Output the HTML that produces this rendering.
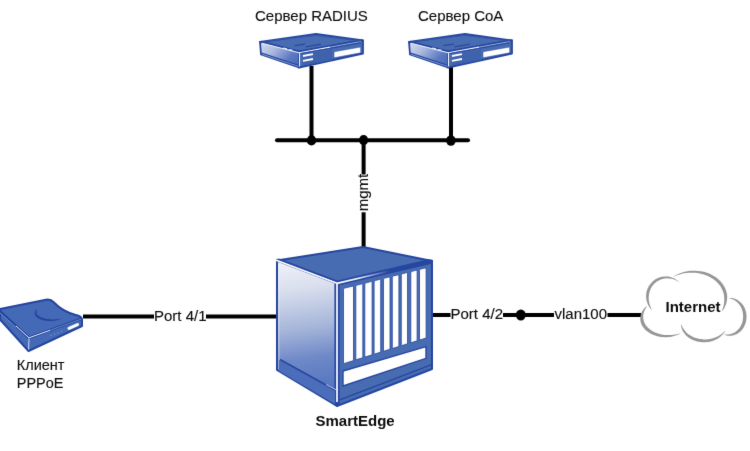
<!DOCTYPE html>
<html><head><meta charset="utf-8">
<style>
html,body{margin:0;padding:0;background:#fff;}
body{width:750px;height:451px;overflow:hidden;}
svg{display:block;}
text{font-family:"Liberation Sans",sans-serif;fill:#0c0c0c;stroke:#0c0c0c;stroke-width:0.12px;}
</style></head><body>
<svg width="750" height="451" viewBox="0 0 750 451">
<defs>
  <filter id="soft" x="0" y="0" width="750" height="451" filterUnits="userSpaceOnUse" color-interpolation-filters="sRGB"><feConvolveMatrix order="3" kernelMatrix="6 67 6 67 708 67 6 67 6" divisor="1000" edgeMode="duplicate"/></filter>
  <linearGradient id="srvL" x1="0" y1="0.2" x2="1" y2="0.8">
    <stop offset="0" stop-color="#cfd6ea"/>
    <stop offset="0.3" stop-color="#adbbdf"/>
    <stop offset="0.75" stop-color="#5b79c1"/>
    <stop offset="1" stop-color="#4a6bb8"/>
  </linearGradient>
  <linearGradient id="swL" gradientUnits="userSpaceOnUse" x1="292" y1="262" x2="312" y2="400">
    <stop offset="0" stop-color="#eff1f7"/>
    <stop offset="0.2" stop-color="#d8deed"/>
    <stop offset="0.49" stop-color="#a4b4d9"/>
    <stop offset="0.7" stop-color="#6f89c8"/>
    <stop offset="1" stop-color="#4e6fbc"/>
  </linearGradient>
</defs>
<g filter="url(#soft)">
<rect x="0" y="0" width="750" height="451" fill="#fff"/>

<!-- ===== lines ===== -->
<g stroke="#000" stroke-width="4" fill="none">
  <line x1="277" y1="140.2" x2="468" y2="140.2" stroke-linecap="round"/>
  <line x1="311.5" y1="66" x2="311.5" y2="140.2"/>
  <line x1="451" y1="66" x2="451" y2="140.2"/>
  <line x1="363.6" y1="140.2" x2="363.6" y2="174.5"/>
  <line x1="363.6" y1="212.3" x2="363.6" y2="250"/>
  <line x1="83" y1="316.5" x2="154" y2="316.5"/>
  <line x1="206" y1="316.5" x2="278" y2="316.5"/>
  <line x1="432" y1="315" x2="450.5" y2="315"/>
  <line x1="503" y1="315" x2="554" y2="315"/>
  <line x1="607.5" y1="315" x2="641" y2="315"/>
</g>
<g fill="#000">
  <ellipse cx="311.5" cy="140.4" rx="4.7" ry="5.1"/>
  <ellipse cx="363.6" cy="140.1" rx="4.6" ry="5.1"/>
  <ellipse cx="450.9" cy="140.5" rx="4.8" ry="5.2"/>
  <ellipse cx="520.8" cy="315" rx="4.9" ry="5.5"/>
</g>

<!-- ===== texts ===== -->
<text transform="translate(255,20.7) scale(1,1.02)" font-size="15">Сервер RADIUS</text>
<text transform="translate(418,20.7) scale(1,1.02)" font-size="15">Сервер CoA</text>
<text transform="translate(154,321) scale(1,1.02)" font-size="15">Port 4/1</text>
<text transform="translate(450.5,319.3) scale(1,1.02)" font-size="15">Port 4/2</text>
<text transform="translate(554.5,319.3) scale(1,1.02)" font-size="15">vlan100</text>
<text transform="translate(16.8,369.7) scale(1,1.02)" font-size="14.5">Клиент</text>
<text transform="translate(16.8,387.7) scale(1,1.02)" font-size="14.5">PPPoE</text>
<text transform="translate(665.5,311.7) scale(1,1.02)" font-size="15" font-weight="bold" style="stroke:none">Internet</text>
<text transform="translate(315.5,426.2) scale(1,1.02)" font-size="15" font-weight="bold" style="stroke:none">SmartEdge</text>
<text transform="translate(367.8,211.3) rotate(-90)" font-size="15">mgmt</text>

<!-- ===== servers ===== -->
<g id="srv">
  <polygon points="260,42 316,34 363,40.5 299,52" fill="#486cb1" stroke="#2646a0" stroke-width="1.8" stroke-linejoin="round"/>
  <polygon points="260,42 299,52 299,67.5 261,54.5" fill="url(#srvL)" stroke="#2646a0" stroke-width="1.8" stroke-linejoin="round"/>
  <polygon points="299,52 363,40.5 363,53.5 299,67.5" fill="#486cb1" stroke="#2646a0" stroke-width="1.8" stroke-linejoin="round"/>
  <polyline points="261,41.6 299,51.3 362,39.9" fill="none" stroke="#2646a0" stroke-width="1.5"/>
  <polyline points="262,43.3 299,52.7 330,47.1" fill="none" stroke="#f0f4fb" stroke-width="1.1"/>
  <line x1="330" y1="47.1" x2="361" y2="41.5" stroke="#9fb2dc" stroke-width="0.9"/>
  <polyline points="300,53.8 361,42.8" fill="none" stroke="#2646a0" stroke-width="1"/>
  <line x1="299.5" y1="53" x2="299.5" y2="66.5" stroke="#eef2fa" stroke-width="1.1"/>
  <line x1="261.5" y1="53.2" x2="298.5" y2="65.3" stroke="#2646a0" stroke-width="1.3"/>
  <line x1="262" y1="54.4" x2="298.5" y2="66.4" stroke="#9fb2dc" stroke-width="0.6"/>
  <polyline points="264,41.5 316,35.5 360,41" fill="none" stroke="#3456a8" stroke-width="0.8"/>
  <line x1="283" y1="48" x2="287" y2="48.9" stroke="#e6ecf8" stroke-width="1.2"/>
  <line x1="288.8" y1="49.5" x2="292.6" y2="50.4" stroke="#e6ecf8" stroke-width="1.2"/>
  <line x1="294.4" y1="45.7" x2="305" y2="44.1" stroke="#2a4a9e" stroke-width="1.2"/>
  <line x1="305.6" y1="46.9" x2="321" y2="44.1" stroke="#2a4a9e" stroke-width="1.2"/>
  <polygon points="303,54.5 332,49 332,60 303,65.5" fill="#3f62ad"/>
  <polygon points="334,51.8 360.7,47 360.7,52.8 334,57.8" fill="#fff" stroke="#2646a0" stroke-width="0.5"/>
  <line x1="303" y1="56" x2="313" y2="54.2" stroke="#fff" stroke-width="1.8"/>
  <line x1="303" y1="60.8" x2="313" y2="59" stroke="#fff" stroke-width="1.8"/>
</g>
<use href="#srv" x="149" y="0"/>

<!-- ===== modem ===== -->
<g>
  <path d="M0,309 L46,299.7 Q50.5,298.8 54,302.5 Q62,311 75,314.8 Q82,316.5 82,319.5 L82,326 L28.5,351 L0,319.5 Z" fill="#4469b6" stroke="#24459e" stroke-width="2" stroke-linejoin="round"/>
  <polyline points="0,311.5 29,337.8 81,319" fill="none" stroke="#24459e" stroke-width="2.6"/>
  <polyline points="16,326 29,337.8 50,330.3" fill="none" stroke="#e6ecf8" stroke-width="1"/>
  <polyline points="0,313 16,327.3" fill="none" stroke="#7f98d0" stroke-width="0.9"/>
  <polyline points="50,330.3 81,319.2" fill="none" stroke="#6f8cc8" stroke-width="0.9"/>
  <line x1="29" y1="338.3" x2="28.6" y2="349.5" stroke="#dfe6f6" stroke-width="0.9"/>
  <path d="M37.1,309.0 L36.4,309.5 L35.8,310.1 L35.4,310.7 L35.0,311.4 L34.8,312.1 L34.7,312.7 L34.7,313.4 L34.8,314.1 L35.0,314.8 L35.4,315.4 L35.8,316.1 L36.4,316.7 L37.0,317.3 L37.8,317.9 L38.6,318.4 L39.6,318.9 L40.6,319.4 L41.7,319.8 L42.8,320.1 L44.0,320.4 L45.3,320.7 L46.5,320.8 L47.9,321.0 L49.2,321.0 L50.5,321.1 L51.8,321.0 L53.1,320.9 L54.4,320.7 L55.7,320.5 L56.9,320.2 L58.1,319.9 L59.2,319.5 L60.2,319.1 L61.2,318.6 L62.0,318.1 L62.0,318.1 L60.9,318.4 L59.8,318.6 L58.7,318.9 L57.6,319.0 L56.4,319.2 L55.3,319.3 L54.1,319.4 L52.9,319.4 L51.7,319.4 L50.5,319.3 L49.3,319.2 L48.2,319.1 L47.0,318.9 L45.9,318.7 L44.9,318.5 L43.9,318.2 L42.9,317.9 L42.0,317.6 L41.1,317.3 L40.3,316.9 L39.6,316.5 L39.0,316.1 L38.4,315.7 L37.8,315.2 L37.4,314.8 L37.0,314.3 L36.7,313.8 L36.5,313.3 L36.3,312.8 L36.3,312.2 L36.3,311.6 L36.4,311.0 L36.6,310.4 L36.8,309.7 L37.1,309.0Z" fill="#24459e"/>
  <line x1="69" y1="328.3" x2="77.5" y2="324.6" stroke="#fff" stroke-width="3" stroke-linecap="round"/>
  <g fill="#7d98d4"><circle cx="51" cy="335.5" r="0.7"/><circle cx="54.5" cy="334.2" r="0.7"/><circle cx="58" cy="332.9" r="0.7"/><circle cx="61.5" cy="331.6" r="0.7"/></g>
</g>

<!-- ===== switch ===== -->
<g>
  <clipPath id="swClip"><polygon points="276,259 363,246 433,260 433,370 337,407 276,371"/></clipPath>
  <linearGradient id="hlF" gradientUnits="userSpaceOnUse" x1="337" y1="0" x2="432" y2="0">
    <stop offset="0" stop-color="#ffffff"/><stop offset="0.22" stop-color="#e8eef8"/><stop offset="0.55" stop-color="#2646a0"/>
  </linearGradient>
  <polygon points="277,260.5 363,247 432,261 337,283.3" fill="#486cb2" stroke="#2646a0" stroke-width="2" stroke-linejoin="round"/>
  <polygon points="277,260.5 337,283.3 337,406 277,370" fill="url(#swL)" stroke="#2646a0" stroke-width="2" stroke-linejoin="round"/>
  <polygon points="337,283.3 432,261 432,369 337,406" fill="#486cb2" stroke="#2646a0" stroke-width="2" stroke-linejoin="round"/>
  <g clip-path="url(#swClip)">
    <line x1="274" y1="258" x2="337.5" y2="282" stroke="#2646a0" stroke-width="2.6"/>
    <line x1="337" y1="283.3" x2="436" y2="260.1" stroke="#2646a0" stroke-width="5.2"/>
    <line x1="278.9" y1="263" x2="278.9" y2="369" stroke="#f4f6fb" stroke-width="0.9" opacity="0.6"/>
    <line x1="337" y1="283.3" x2="337" y2="406" stroke="#2646a0" stroke-width="5.2"/>
    <polyline points="274,259.3 337,283.3" fill="none" stroke="#fff" stroke-width="1.7"/>
    <line x1="337" y1="283.3" x2="432" y2="261" stroke="url(#hlF)" stroke-width="1.7"/>
    <line x1="337" y1="283.3" x2="337" y2="402" stroke="#fff" stroke-width="1.7"/>
  </g>
  <!-- left plinth -->
  <polygon points="279,360 335,390.5 335,404 279,371" fill="#4b6dba"/>
  <line x1="280" y1="359.5" x2="335" y2="390" stroke="#2646a0" stroke-width="1.6"/>
  <!-- front face plinth -->
  <line x1="338.5" y1="400.3" x2="431" y2="364.8" stroke="#2646a0" stroke-width="1.3"/>
  <line x1="326" y1="384.5" x2="336" y2="389.8" stroke="#b8c6ea" stroke-width="1"/>
  <!-- white bar -->
  <polygon points="343,371 426,346.6 426,358.3 343,386" fill="#fff" stroke="#2646a0" stroke-width="1.4"/>
  <!-- slots -->
  <g fill="#fff" stroke="#2646a0" stroke-width="0.8">
<path d="M343.5,363.7 L343.5,289.6 Q343.5,288.4 344.7,288.1 L352.3,286.2 Q353.5,285.9 353.5,287.1 L353.5,360.6 Z"/>
<path d="M355.8,359.8 L355.8,286.6 Q355.8,285.4 357.0,285.1 L361.6,283.9 Q362.8,283.6 362.8,284.8 L362.8,357.7 Z"/>
<path d="M364.8,357.1 L364.8,284.3 Q364.8,283.1 366.0,282.8 L370.9,281.6 Q372.1,281.3 372.1,282.5 L372.1,354.8 Z"/>
<path d="M374.1,354.2 L374.1,282.0 Q374.1,280.8 375.3,280.5 L379.5,279.4 Q380.7,279.1 380.7,280.3 L380.7,352.1 Z"/>
<path d="M383.5,351.3 L383.5,279.6 Q383.5,278.4 384.7,278.1 L388.8,277.1 Q390.0,276.8 390.0,278.0 L390.0,349.2 Z"/>
<path d="M392.3,348.5 L392.3,277.4 Q392.3,276.2 393.5,275.9 L397.7,274.9 Q398.9,274.6 398.9,275.8 L398.9,346.5 Z"/>
<path d="M401.3,345.7 L401.3,275.2 Q401.3,274.0 402.5,273.7 L406.3,272.7 Q407.5,272.4 407.5,273.6 L407.5,343.8 Z"/>
<path d="M410.8,342.8 L410.8,272.8 Q410.8,271.6 412.0,271.3 L415.9,270.3 Q417.1,270.0 417.1,271.2 L417.1,340.8 Z"/>
<path d="M419.5,340.1 L419.5,270.6 Q419.5,269.4 420.7,269.1 L424.9,268.1 Q426.1,267.8 426.1,269.0 L426.1,338.0 Z"/>
  </g>
</g>

<!-- ===== cloud ===== -->
<g fill="#969696">
  <path d="M651.9,310.1 L650.8,309.0 L649.8,307.7 L649.0,306.4 L648.2,305.1 L647.5,303.6 L647.0,302.1 L646.6,300.6 L646.3,299.0 L646.1,297.4 L646.1,295.8 L646.2,294.2 L646.4,292.6 L646.8,291.0 L647.3,289.5 L647.9,288.0 L648.6,286.6 L649.5,285.2 L650.4,283.9 L651.5,282.7 L652.6,281.6 L653.8,280.5 L655.1,279.6 L656.5,278.8 L657.9,278.1 L659.4,277.5 L660.9,277.0 L662.4,276.7 L664.0,276.5 L665.5,276.4 L667.1,276.5 L668.7,276.6 L670.2,276.9 L671.7,277.4 L673.2,277.9 L674.6,278.6 L676.0,279.4 L677.2,280.3 L678.4,281.3 L679.5,282.4 L679.5,282.4 L678.2,281.6 L676.9,280.8 L675.5,280.1 L674.1,279.6 L672.7,279.1 L671.3,278.7 L669.9,278.5 L668.4,278.4 L667.0,278.3 L665.6,278.4 L664.2,278.6 L662.8,278.9 L661.5,279.3 L660.2,279.8 L658.9,280.4 L657.7,281.0 L656.5,281.8 L655.5,282.7 L654.4,283.6 L653.5,284.6 L652.6,285.7 L651.8,286.8 L651.1,288.0 L650.5,289.2 L650.0,290.5 L649.6,291.8 L649.2,293.1 L649.0,294.5 L648.8,295.9 L648.7,297.3 L648.7,298.7 L648.8,300.1 L649.0,301.5 L649.3,302.9 L649.7,304.4 L650.1,305.8 L650.7,307.2 L651.3,308.6 L651.9,310.1Z"/>
  <path d="M673.4,276.7 L675.2,275.5 L677.2,274.5 L679.3,273.5 L681.5,272.7 L683.7,272.1 L686.0,271.5 L688.3,271.1 L690.6,270.8 L693.0,270.7 L695.4,270.7 L697.8,270.9 L700.1,271.2 L702.5,271.6 L704.7,272.1 L707.0,272.8 L709.1,273.6 L711.2,274.6 L713.2,275.7 L715.1,276.8 L716.9,278.1 L718.6,279.5 L720.1,281.0 L721.5,282.6 L722.8,284.2 L723.9,285.9 L724.9,287.7 L725.7,289.5 L726.3,291.4 L726.8,293.3 L727.1,295.2 L727.2,297.2 L727.1,299.1 L726.8,301.0 L726.4,302.9 L725.8,304.8 L725.0,306.6 L724.1,308.4 L723.0,310.1 L721.7,311.6 L721.7,311.6 L722.3,309.7 L722.9,307.9 L723.5,306.1 L723.9,304.3 L724.1,302.5 L724.3,300.7 L724.3,299.0 L724.2,297.2 L724.0,295.5 L723.7,293.8 L723.2,292.1 L722.6,290.5 L721.9,288.9 L721.0,287.3 L720.1,285.8 L718.9,284.3 L717.7,282.9 L716.3,281.5 L714.8,280.3 L713.2,279.1 L711.5,278.0 L709.7,277.0 L707.9,276.1 L705.9,275.2 L703.9,274.5 L701.8,273.9 L699.7,273.4 L697.5,273.1 L695.3,272.8 L693.0,272.7 L690.8,272.7 L688.5,272.8 L686.3,273.0 L684.1,273.3 L681.9,273.8 L679.7,274.4 L677.6,275.1 L675.5,275.9 L673.4,276.7Z"/>
  <path d="M728.8,298.0 L730.3,297.9 L731.8,298.0 L733.3,298.2 L734.8,298.7 L736.2,299.3 L737.6,300.0 L738.9,300.9 L740.1,301.9 L741.3,303.0 L742.4,304.3 L743.3,305.6 L744.2,307.1 L744.9,308.6 L745.5,310.2 L746.0,311.9 L746.3,313.6 L746.5,315.4 L746.5,317.1 L746.4,318.9 L746.2,320.6 L745.8,322.3 L745.3,323.9 L744.6,325.5 L743.9,327.0 L743.0,328.5 L742.0,329.8 L740.9,331.0 L739.7,332.1 L738.4,333.1 L737.0,333.9 L735.6,334.6 L734.2,335.1 L732.7,335.5 L731.2,335.7 L729.6,335.8 L728.1,335.7 L726.6,335.4 L725.2,335.0 L723.8,334.4 L723.8,334.4 L725.3,334.5 L726.8,334.5 L728.2,334.4 L729.6,334.3 L731.0,334.0 L732.3,333.5 L733.5,333.0 L734.7,332.4 L735.9,331.6 L736.9,330.8 L737.9,329.8 L738.9,328.8 L739.7,327.7 L740.4,326.5 L741.1,325.3 L741.7,324.0 L742.2,322.7 L742.6,321.3 L742.8,319.9 L743.0,318.5 L743.1,317.0 L743.1,315.6 L743.0,314.2 L742.8,312.7 L742.5,311.3 L742.1,309.9 L741.6,308.6 L741.0,307.3 L740.3,306.0 L739.5,304.8 L738.6,303.7 L737.7,302.7 L736.6,301.7 L735.5,300.9 L734.3,300.1 L733.0,299.5 L731.7,298.9 L730.3,298.5 L728.8,298.0Z"/>
  <path d="M681.0,323.9 L681.1,325.2 L681.2,326.5 L681.5,327.7 L681.9,329.0 L682.4,330.2 L683.0,331.5 L683.8,332.6 L684.6,333.8 L685.5,334.8 L686.5,335.9 L687.6,336.8 L688.8,337.7 L690.1,338.6 L691.4,339.3 L692.8,340.0 L694.3,340.6 L695.8,341.1 L697.4,341.5 L698.9,341.8 L700.5,342.1 L702.2,342.2 L703.8,342.3 L705.4,342.2 L707.0,342.1 L708.6,341.9 L710.2,341.6 L711.8,341.2 L713.3,340.7 L714.8,340.1 L716.2,339.5 L717.5,338.7 L718.8,337.9 L720.0,337.0 L721.1,336.1 L722.1,335.1 L723.1,334.0 L723.9,332.9 L724.7,331.8 L725.3,330.6 L725.3,330.6 L724.2,331.6 L723.3,332.5 L722.2,333.4 L721.2,334.3 L720.0,335.1 L718.9,335.8 L717.6,336.5 L716.4,337.1 L715.1,337.6 L713.7,338.1 L712.4,338.5 L711.0,338.8 L709.6,339.1 L708.1,339.3 L706.7,339.4 L705.3,339.4 L703.8,339.4 L702.4,339.3 L701.0,339.1 L699.6,338.9 L698.2,338.6 L696.9,338.3 L695.5,337.9 L694.2,337.4 L693.0,336.9 L691.8,336.3 L690.6,335.6 L689.5,334.9 L688.4,334.2 L687.4,333.4 L686.4,332.5 L685.5,331.6 L684.7,330.6 L684.0,329.6 L683.3,328.6 L682.6,327.5 L682.1,326.3 L681.6,325.1 L681.0,323.9Z"/>
  <path d="M647.0,306.0 L645.7,307.0 L644.6,308.1 L643.6,309.3 L642.7,310.5 L641.9,311.8 L641.3,313.1 L640.8,314.5 L640.5,315.9 L640.3,317.3 L640.2,318.7 L640.3,320.2 L640.6,321.6 L641.0,323.0 L641.5,324.4 L642.2,325.7 L643.0,327.0 L644.0,328.2 L645.0,329.4 L646.2,330.6 L647.5,331.6 L648.9,332.6 L650.4,333.5 L652.0,334.3 L653.6,335.0 L655.3,335.6 L657.1,336.2 L658.9,336.6 L660.8,336.9 L662.7,337.1 L664.6,337.2 L666.5,337.2 L668.4,337.1 L670.2,336.9 L672.1,336.5 L673.9,336.1 L675.6,335.6 L677.3,334.9 L679.0,334.2 L680.5,333.4 L680.5,333.4 L678.7,333.8 L677.0,334.2 L675.2,334.6 L673.5,334.8 L671.7,335.0 L669.9,335.1 L668.2,335.1 L666.4,335.1 L664.7,334.9 L663.0,334.7 L661.3,334.4 L659.7,334.0 L658.1,333.5 L656.5,333.0 L655.1,332.4 L653.6,331.7 L652.3,331.0 L651.0,330.2 L649.9,329.3 L648.8,328.4 L647.8,327.5 L646.8,326.5 L646.0,325.4 L645.3,324.4 L644.7,323.3 L644.2,322.2 L643.8,321.0 L643.5,319.8 L643.3,318.6 L643.2,317.4 L643.2,316.2 L643.3,315.0 L643.5,313.7 L643.8,312.5 L644.3,311.2 L644.8,310.0 L645.5,308.7 L646.3,307.4 L647.0,306.0Z"/>
</g>
</g>
</svg>
</body></html>
